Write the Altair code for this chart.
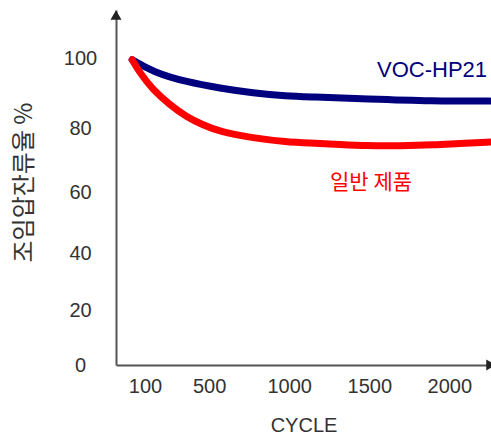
import altair as alt
import pandas as pd

# ---- data ----
series_names = ["VOC-HP21", "일반 제품"]
series_colors = ["#00007f", "#ff0000"]

cycles_voc = [20, 150, 362, 568, 774, 986, 1130, 1486, 1898, 2254]
values_voc = [99.5, 96.0, 93.1, 91.4, 90.0, 89.1, 88.9, 88.3, 87.7, 87.7]

cycles_gen = [20, 69, 150, 256, 362, 462, 568, 774, 986, 1130, 1274, 1486, 1692, 1898, 2110, 2254]
values_gen = [99.5, 95.7, 90.9, 86.6, 83.1, 80.9, 78.8, 76.9, 75.6, 75.3, 75.0, 74.4, 74.4, 74.7, 75.3, 75.6]

x_ticks = [100, 500, 1000, 1500, 2000]
y_ticks = [0, 20, 40, 60, 80, 100]
x_title = "CYCLE"
y_title = "조임압잔류율 %"

# annotation anchors (data coordinates)
ann_cycle = [1892, 1511]
ann_value = [96.6, 62.8]

# ---- scales ----
X_DOMAIN = [-81, 2260]
Y_DOMAIN = [0, 20, 40, 60, 80, 100, 113.7]
Y_RANGE = [355, 300, 243, 182, 118, 48, 0]

LATIN = "Liberation Sans, Arial, sans-serif"
KOREAN = "Noto Sans CJK KR, sans-serif"

lines_df = pd.DataFrame(
    {
        "cycle": cycles_voc + cycles_gen,
        "value": values_voc + values_gen,
        "series": [series_names[0]] * len(cycles_voc) + [series_names[1]] * len(cycles_gen),
    }
)

xscale = alt.Scale(domain=X_DOMAIN, nice=False, zero=False)
yscale = alt.Scale(domain=Y_DOMAIN, range=Y_RANGE, nice=False, zero=False)
cscale = alt.Scale(domain=series_names, range=series_colors)

x_axis = alt.Axis(
    values=x_ticks,
    format="d",
    title=x_title,
    grid=False,
    ticks=False,
    tickSize=0,
    domainColor="#555555",
    domainWidth=2,
    labelFont=LATIN,
    labelFontSize=20,
    labelColor="#333333",
    labelPadding=21,
    labelBaseline="middle",
    labelFlush=False,
    labelOverlap=False,
    titleFont=LATIN,
    titleFontSize=20,
    titleFontWeight="normal",
    titleColor="#333333",
    titleY=60,
    titleBaseline="middle",
)

y_axis = alt.Axis(
    values=y_ticks,
    format="d",
    title=y_title,
    grid=False,
    ticks=False,
    tickSize=0,
    domainColor="#555555",
    domainWidth=2,
    labelFont=LATIN,
    labelFontSize=20,
    labelColor="#333333",
    labelAlign="center",
    labelPadding=36,
    labelFlush=False,
    labelOverlap=False,
    titleFont=KOREAN,
    titleFontSize=24,
    titleFontWeight="normal",
    titleColor="#333333",
    titleX=-92,
    titleY=172,
    titleAlign="center",
    titleBaseline="middle",
)

lines = (
    alt.Chart(lines_df)
    .mark_line(strokeWidth=7, strokeCap="round", strokeJoin="round", interpolate="basis")
    .encode(
        x=alt.X("cycle:Q", scale=xscale, axis=x_axis),
        y=alt.Y("value:Q", scale=yscale, axis=y_axis),
        color=alt.Color("series:N", scale=cscale, legend=None),
        detail="series:N",
    )
)

ann_df = pd.DataFrame({"label": series_names, "cycle": ann_cycle, "value": ann_value})

ann_voc = (
    alt.Chart(ann_df.iloc[[0]])
    .mark_text(font=LATIN, fontSize=22, align="center", baseline="middle")
    .encode(
        x=alt.X("cycle:Q", scale=xscale),
        y=alt.Y("value:Q", scale=yscale),
        text="label:N",
        color=alt.Color("label:N", scale=cscale, legend=None),
    )
)
ann_gen = (
    alt.Chart(ann_df.iloc[[1]])
    .mark_text(font=KOREAN, fontSize=21, align="center", baseline="middle")
    .encode(
        x=alt.X("cycle:Q", scale=xscale),
        y=alt.Y("value:Q", scale=yscale),
        text="label:N",
        color=alt.Color("label:N", scale=cscale, legend=None),
    )
)

arrow_df = pd.DataFrame(
    {"cycle": [X_DOMAIN[0], X_DOMAIN[1]], "value": [112.3, 0], "shape": ["triangle-up", "triangle-right"]}
)
arrows = (
    alt.Chart(arrow_df)
    .mark_point(filled=True, size=121, opacity=1, color="#222222")
    .encode(
        x=alt.X("cycle:Q", scale=xscale),
        y=alt.Y("value:Q", scale=yscale),
        shape=alt.Shape("shape:N", scale=None),
    )
)

chart = (
    alt.layer(lines, ann_voc, ann_gen, arrows)
    .properties(
        width=375,
        height=355,
        autosize=alt.AutoSizeParams(type="none"),
        padding={"left": 116, "top": 10, "right": 0, "bottom": 76},
        background="white",
    )
    .configure_view(stroke=None)
)

chart.save("out.html", embed_options={"renderer": "svg", "actions": False})
